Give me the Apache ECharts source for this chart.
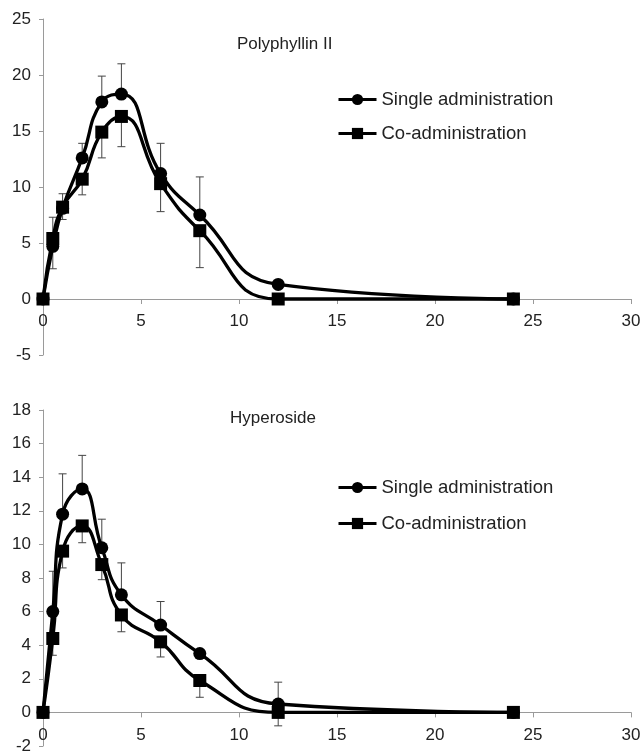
<!DOCTYPE html>
<html>
<head>
  <meta charset="utf-8" />
  <title>ECharts</title>
  <script src="https://cdn.jsdelivr.net/npm/echarts@6.0.0/dist/echarts.min.js"></script>
  <style>
    html, body { margin: 0; padding: 0; background: #fff; }
  </style>
</head>
<body>
<div id="main" style="width:644px;height:751px;"></div>
<script type="text/javascript">
  // sampling times (h)
  var times = [0, 0.5, 1, 2, 3, 4, 6, 8, 12, 24];

  // Polyphyllin II
  var ppSingle = [0, 4.7, 8.1, 12.6, 17.6, 18.3, 11.2, 7.5, 1.3, 0];
  var ppCo = [0, 5.4, 8.2, 10.7, 14.9, 16.3, 10.3, 6.1, 0, 0];
  var ppSingleSd = [0, 2.6, 1.3, 1.3, 2.3, 2.7, 2.7, 3.4, 0, 0];
  var ppCoSd = [0, 2.7, 1.1, 1.4, 2.3, 2.7, 2.5, 3.3, 0, 0];

  // Hyperoside
  var hySingle = [0, 6.0, 11.8, 13.3, 9.8, 7.0, 5.2, 3.5, 0.5, 0];
  var hyCo = [0, 4.4, 9.6, 11.1, 8.8, 5.8, 4.2, 1.9, 0, 0];
  var hySingleSd = [0, 2.4, 2.4, 2.0, 1.7, 1.9, 1.4, 0, 1.3, 0];
  var hyCoSd = [0, 1.0, 1.0, 1.0, 0.9, 1.0, 0.9, 1.0, 0.8, 0];

  var names = ['Single administration', 'Co-administration'];

  var font = 'Liberation Sans, Arial, sans-serif';
  var axisGray = '#9a9a9a';

  function pairs(vals) {
    return times.map(function (t, i) { return [t, vals[i]]; });
  }

  // up = true: bar goes above the mean, else below
  function errData(vals, sd, up) {
    var out = [];
    for (var i = 0; i < times.length; i++) {
      if (!sd[i]) continue;
      out.push([times[i], vals[i], up ? vals[i] + sd[i] : vals[i] - sd[i]]);
    }
    return out;
  }

  function renderErr(params, api) {
    var a = api.coord([api.value(0), api.value(1)]);
    var b = api.coord([api.value(0), api.value(2)]);
    var st = { stroke: '#444', lineWidth: 1 };
    return {
      type: 'group',
      children: [
        { type: 'line', shape: { x1: a[0], y1: a[1], x2: b[0], y2: b[1] }, style: st },
        { type: 'line', shape: { x1: b[0] - 4, y1: b[1], x2: b[0] + 4, y2: b[1] }, style: st }
      ]
    };
  }

  // x axis sits on y = 0, moved up from the grid bottom with offset
  function xAxis(idx, off) {
    return {
      type: 'value', gridIndex: idx, min: 0, max: 30, interval: 5,
      position: 'bottom', offset: off,
      axisLine: { onZero: false, lineStyle: { color: axisGray, width: 1 } },
      axisTick: { show: true, length: 5, lineStyle: { color: axisGray } },
      axisLabel: { color: '#222', fontSize: 17, margin: 14, fontFamily: font },
      splitLine: { show: false }
    };
  }

  function yAxis(idx, min, max, step) {
    return {
      type: 'value', gridIndex: idx, min: min, max: max, interval: step,
      axisLine: { show: true, onZero: false, lineStyle: { color: axisGray, width: 1 } },
      axisTick: { show: true, length: 4, lineStyle: { color: axisGray } },
      axisLabel: { color: '#222', fontSize: 17, margin: 12, fontFamily: font },
      splitLine: { show: false }
    };
  }

  function lineSeries(name, idx, vals, symbol, size) {
    return {
      name: name, type: 'line', xAxisIndex: idx, yAxisIndex: idx,
      data: pairs(vals), smooth: 0.5,
      symbol: symbol, symbolSize: size, z: 3,
      lineStyle: { color: '#000', width: 3.3 },
      itemStyle: { color: '#000' }
    };
  }

  function errSeries(idx, vals, sd, up) {
    return {
      type: 'custom', xAxisIndex: idx, yAxisIndex: idx, z: 1,
      data: errData(vals, sd, up), renderItem: renderErr, silent: true
    };
  }

  function legend(top, gap) {
    return {
      data: names, orient: 'vertical', left: 332, top: top,
      itemWidth: 38, itemHeight: 14, itemGap: gap,
      lineStyle: { width: 3 },
      textStyle: { fontSize: 18.5, color: '#222', fontFamily: font }
    };
  }

  var myChart = echarts.init(document.getElementById('main'));
  var option = {
    animation: false,
    backgroundColor: '#fff',
    textStyle: { fontFamily: font },
    title: [
      { text: 'Polyphyllin II', left: 232, top: 31,
        textStyle: { fontSize: 17, fontWeight: 'normal', color: '#222', fontFamily: font } },
      { text: 'Hyperoside', left: 225, top: 405,
        textStyle: { fontSize: 17, fontWeight: 'normal', color: '#222', fontFamily: font } }
    ],
    legend: [legend(85, 15), legend(473, 17)],
    grid: [
      { left: 43, right: 13, top: 19, height: 336, outerBoundsMode: 'none' },
      { left: 43, right: 13, top: 410, height: 336, outerBoundsMode: 'none' }
    ],
    xAxis: [xAxis(0, -56), xAxis(1, -33.6)],
    yAxis: [yAxis(0, -5, 25, 5), yAxis(1, -2, 18, 2)],
    series: [
      errSeries(0, ppSingle, ppSingleSd, true),
      errSeries(0, ppCo, ppCoSd, false),
      lineSeries(names[0], 0, ppSingle, 'circle', 13),
      lineSeries(names[1], 0, ppCo, 'rect', 13),
      errSeries(1, hySingle, hySingleSd, true),
      errSeries(1, hyCo, hyCoSd, false),
      lineSeries(names[0], 1, hySingle, 'circle', 13),
      lineSeries(names[1], 1, hyCo, 'rect', 13)
    ]
  };
  myChart.setOption(option);
</script>
</body>
</html>
